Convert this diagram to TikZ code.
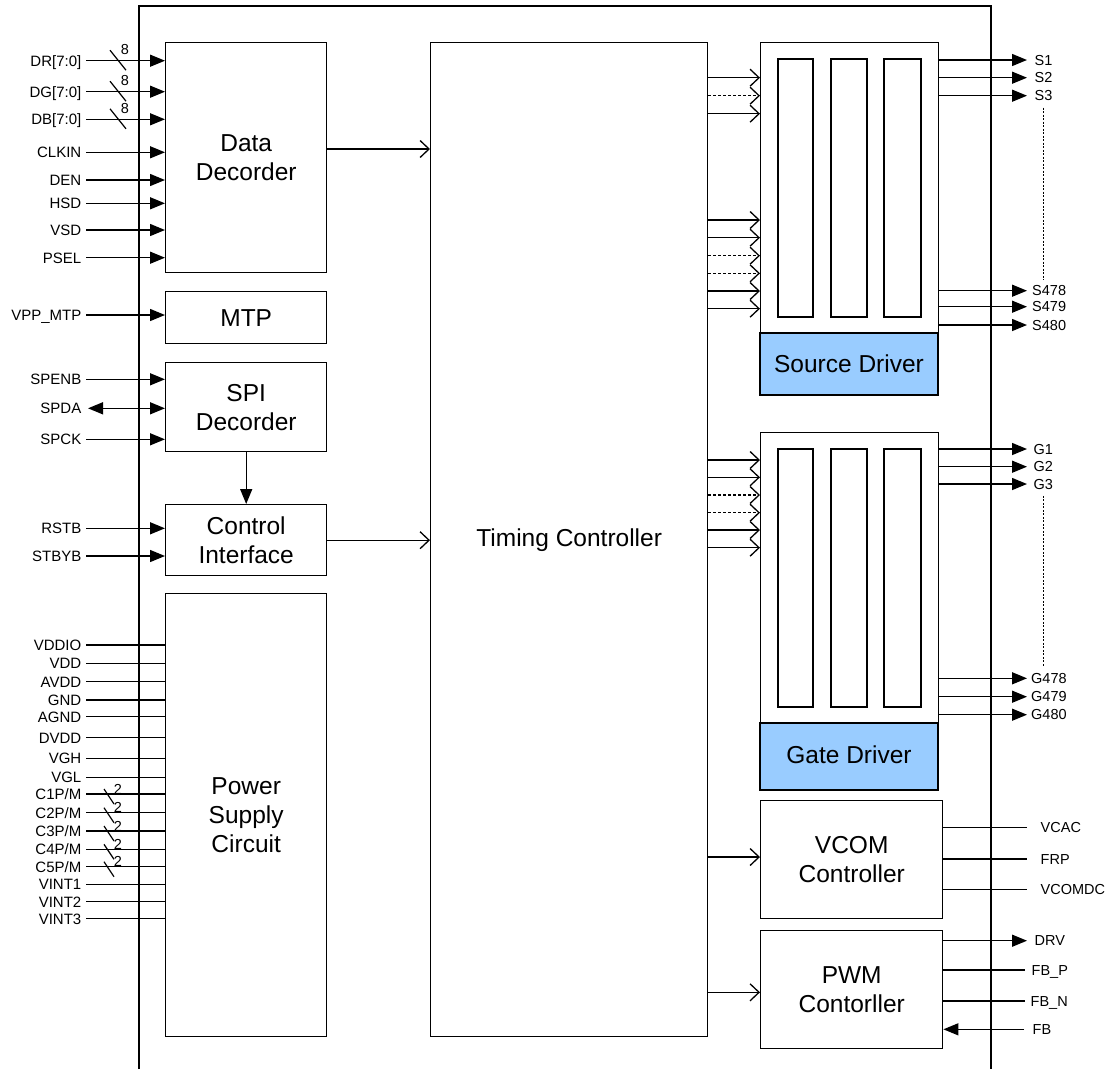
\documentclass[tikz,border=0pt]{standalone}
\usepackage{fontspec}
\setmainfont{Liberation Sans}
\usetikzlibrary{arrows.meta}
\definecolor{drvblue}{RGB}{153,204,255}
\newcommand{\lpin}[5]{%
  \node[lbl,anchor=east] (#1) at (82,#2) {#3};
  \draw[#5] ([xshift=4pt]#1.east) -- (#1.east -| #4.west);}
\newcommand{\rpin}[7]{%
  \node[rlbl,anchor=west] (#1) at (#4,#2) {#3};
  \draw[#6] (#1.west -| #5.east) -- ([xshift=-#7pt]#1.west);}
\newcommand{\busE}[3]{%
  \draw[line width=1.2pt] (110,{#2-10.5}) -- (126,{#2+9.5});
  \node[digit] (#1) at (125,{#2-11}) {#3};}
\newcommand{\busT}[3]{%
  \draw[line width=1.2pt] (104,{#2-5}) -- (114,{#2+10});
  \node[digit] (#1) at (118,{#2-5}) {#3};}
\begin{document}
\begin{tikzpicture}[x=1pt,y=-1pt,line width=1.4pt,
  blk/.style={draw,line width=1.4pt,anchor=north west,align=center,
    font=\fontsize{24.5}{29}\selectfont,inner sep=0pt},
  lbl/.style={font=\fontsize{15}{16}\selectfont,inner sep=0pt,
    text height=10.7pt,text depth=0pt},
  rlbl/.style={font=\fontsize{14.5}{16}\selectfont,inner sep=0pt,
    text height=10.4pt,text depth=0pt},
  digit/.style={font=\fontsize{14.5}{14.5}\selectfont,inner sep=0pt},
  tin/.style={-{Triangle[length=15pt,width=12pt]}},
  tboth/.style={{Triangle[length=15pt,width=12pt]}-{Triangle[length=15pt,width=12pt]}},
  chev/.style={-{Straight Barb[length=9pt,width=17pt,line width=1.3pt]},line width=1.3pt},
  chevd/.style={chev,dash pattern=on 3pt off 2pt},
  plain/.style={line width=1.4pt},
  dotv/.style={line width=1.3pt,dash pattern=on 2pt off 1.5pt}
]
\useasboundingbox (0,0) rectangle (1110,1069);

% outer chip border (open at the bottom)
\draw[line width=1.5pt] (139,1069) -- (139,6) -- (991,6) -- (991,1069);

% blocks
\node[blk,minimum width=161pt,minimum height=230pt] (dd) at (165,42) {Data\\Decorder};
\node[blk,minimum width=161pt,minimum height=52pt] (mtp) at (165,291) {MTP};
\node[blk,minimum width=161pt,minimum height=89pt] (spi) at (165,362) {SPI\\Decorder};
\node[blk,minimum width=161pt,minimum height=71pt] (ci) at (165,504) {Control\\Interface};
\node[blk,minimum width=161pt,minimum height=443pt] (ps) at (165,593) {Power\\Supply\\Circuit};
\node[blk,minimum width=277pt,minimum height=994pt] (tc) at (430,42) {Timing Controller};

\draw[fill=drvblue] (760,333) rectangle (938,395);
\node[blk,minimum width=178pt,minimum height=353pt] (sd) at (760,42) {};
\node[font=\fontsize{24.5}{29}\selectfont,inner sep=0pt] (sdl) at (849,364) {Source Driver};
\draw[fill=drvblue] (760,723) rectangle (938,790);
\node[blk,minimum width=178pt,minimum height=358pt] (gd) at (760,432) {};
\node[font=\fontsize{24.5}{29}\selectfont,inner sep=0pt] (gdl) at (849,755) {Gate Driver};
\node[blk,minimum width=182pt,minimum height=118pt] (vc) at (760,800) {VCOM\\Controller};
\node[blk,minimum width=182pt,minimum height=118pt] (pw) at (760,930) {PWM\\Contorller};

% inner columns of the drivers
\foreach \xa/\xb in {778/813,831/867,884/921}{
  \draw (\xa,59) rectangle (\xb,317);
  \draw (\xa,449) rectangle (\xb,707);
}

% left inputs
\lpin{dr}{60.7}{DR[7:0]}{dd}{tin}
\lpin{dg}{91.7}{DG[7:0]}{dd}{tin}
\lpin{db}{119.3}{DB[7:0]}{dd}{tin}
\busE{b1}{60.7}{8}
\busE{b2}{91.7}{8}
\busE{b3}{119.3}{8}
\lpin{clk}{152.3}{CLKIN}{dd}{tin}
\lpin{den}{180}{DEN}{dd}{tin}
\lpin{hsd}{203.3}{HSD}{dd}{tin}
\lpin{vsd}{230}{VSD}{dd}{tin}
\lpin{psel}{257.7}{PSEL}{dd}{tin}
\lpin{vpp}{315}{VPP\_MTP}{mtp}{tin}
\lpin{spenb}{379.3}{SPENB}{spi}{tin}
\lpin{spck}{439.3}{SPCK}{spi}{tin}
\node[lbl,anchor=east] (spda) at (82,408.3) {SPDA};
\draw[tboth] ([xshift=6pt]spda.east) -- (spda.east -| spi.west);
\lpin{rstb}{528.3}{RSTB}{ci}{tin}
\lpin{stbyb}{556}{STBYB}{ci}{tin}

% power pins
\lpin{vddio}{645}{VDDIO}{ps}{plain}
\lpin{vdd}{663.3}{VDD}{ps}{plain}
\lpin{avdd}{681.7}{AVDD}{ps}{plain}
\lpin{gnd}{700}{GND}{ps}{plain}
\lpin{agnd}{716.7}{AGND}{ps}{plain}
\lpin{dvdd}{737.7}{DVDD}{ps}{plain}
\lpin{vgh}{758.3}{VGH}{ps}{plain}
\lpin{vgl}{777.3}{VGL}{ps}{plain}
\lpin{c1}{794}{C1P/M}{ps}{plain}
\lpin{c2}{812.7}{C2P/M}{ps}{plain}
\lpin{c3}{831}{C3P/M}{ps}{plain}
\lpin{c4}{849.3}{C4P/M}{ps}{plain}
\lpin{c5}{866.7}{C5P/M}{ps}{plain}
\busT{n1}{794}{2}
\busT{n2}{812.7}{2}
\busT{n3}{831}{2}
\busT{n4}{849.3}{2}
\busT{n5}{866.7}{2}
\lpin{vint1}{884.3}{VINT1}{ps}{plain}
\lpin{vint2}{901.7}{VINT2}{ps}{plain}
\lpin{vint3}{918.7}{VINT3}{ps}{plain}

% internal connections
\draw[tin] (spi.south) -- (ci.north);
\draw[chev] (dd.east |- 0,149) -- (tc.west |- 0,149);
\draw[chev] (ci.east) -- (ci.east -| tc.west);
\foreach \yy in {77.7,113.7,220,237.7,291,308.7}
  \draw[chev] (tc.east |- 0,\yy) -- (sd.west |- 0,\yy);
\foreach \yy in {95.7,255.7,273.3}
  \draw[chevd] (tc.east |- 0,\yy) -- (sd.west |- 0,\yy);
\foreach \yy in {460,477.3,530,547.7}
  \draw[chev] (tc.east |- 0,\yy) -- (gd.west |- 0,\yy);
\foreach \yy in {495,512.7}
  \draw[chevd] (tc.east |- 0,\yy) -- (gd.west |- 0,\yy);
\draw[chev] (tc.east |- 0,857) -- (vc.west |- 0,857);
\draw[chev] (tc.east |- 0,992.3) -- (pw.west |- 0,992.3);

% right outputs
\rpin{s1}{60}{S1}{1034}{sd}{tin}{7}
\rpin{s2}{77.7}{S2}{1034}{sd}{tin}{7}
\rpin{s3}{95.7}{S3}{1034}{sd}{tin}{7}
\rpin{s478}{290.7}{S478}{1031.5}{sd}{tin}{4.5}
\rpin{s479}{306.7}{S479}{1031.5}{sd}{tin}{4.5}
\rpin{s480}{325}{S480}{1031.5}{sd}{tin}{4.5}
\draw[dotv,shorten <=6pt,shorten >=5pt] (s3.south) -- (s3.south |- s478.north);
\rpin{g1}{449}{G1}{1033}{gd}{tin}{6}
\rpin{g2}{466.7}{G2}{1033}{gd}{tin}{6}
\rpin{g3}{484}{G3}{1033}{gd}{tin}{6}
\rpin{g478}{678.3}{G478}{1030.5}{gd}{tin}{3.5}
\rpin{g479}{696.7}{G479}{1030.5}{gd}{tin}{3.5}
\rpin{g480}{714.7}{G480}{1030.5}{gd}{tin}{3.5}
\draw[dotv,shorten <=6pt,shorten >=5pt] (g3.south) -- (g3.south |- g478.north);
\rpin{vcac}{827.7}{VCAC}{1040}{vc}{plain}{13}
\rpin{frp}{859}{FRP}{1040}{vc}{plain}{13}
\rpin{vcomdc}{889.3}{VCOMDC}{1040}{vc}{plain}{13}
\rpin{drv}{940.7}{DRV}{1034}{pw}{tin}{7}
\rpin{fbp}{970}{FB\_P}{1031}{pw}{plain}{6}
\rpin{fbn}{1001}{FB\_N}{1030}{pw}{plain}{5}
\node[rlbl,anchor=west] (fb) at (1032,1029.3) {FB};
\draw[tin] ([xshift=-8pt]fb.west) -- (fb.west -| pw.east);
\end{tikzpicture}
\end{document}
